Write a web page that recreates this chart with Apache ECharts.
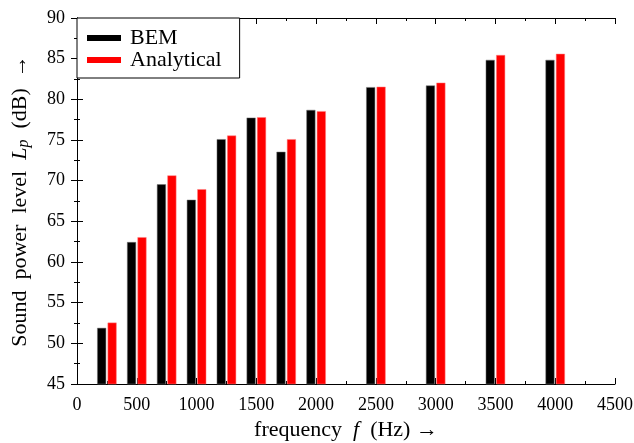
<!DOCTYPE html>
<html>
<head>
<meta charset="utf-8">
<script src="https://cdn.jsdelivr.net/npm/echarts@6/dist/echarts.min.js"></script>
<style>
  html, body { margin: 0; padding: 0; background: #fff; }
  #chart { width: 634px; height: 443px; }
</style>
</head>
<body>
<div id="chart"></div>
<script>
// frequencies (Hz) and sound power levels (dB)
const freqs = [250, 500, 750, 1000, 1250, 1500, 1750, 2000, 2500, 3000, 3500, 4000];
const bem = [51.9, 62.45, 69.55, 67.65, 75.1, 77.75, 73.55, 78.7, 81.5, 81.7, 84.85, 84.85];
const analytical = [52.55, 63.05, 70.65, 68.95, 75.55, 77.8, 75.1, 78.55, 81.55, 82.05, 85.45, 85.6];
const xTicks = [0, 500, 1000, 1500, 2000, 2500, 3000, 3500, 4000, 4500];

const serif = '"Liberation Serif", "DejaVu Serif", serif';
const pairs = (ys) => freqs.map((f, i) => [f, ys[i]]);

const chart = echarts.init(document.getElementById('chart'));

const tickCommon = {
  axisLine: { show: true, lineStyle: { color: '#000', width: 1 } },
  axisTick: { show: true, inside: true, length: 6, lineStyle: { color: '#000' } },
  minorTick: { show: true, splitNumber: 2, length: 3, lineStyle: { color: '#000' } },
  splitLine: { show: false }
};

chart.setOption({
  animation: false,
  backgroundColor: '#fff',
  grid: { left: 77, right: 19, top: 18, bottom: 59, containLabel: false, outerBoundsMode: 'none' },
  legend: {
    orient: 'vertical',
    left: 77, top: 18,
    padding: [9, 18, 7, 10],
    itemGap: 0,
    itemWidth: 34, itemHeight: 6,
    icon: 'rect',
    itemStyle: { borderWidth: 0 },
    borderColor: '#000', borderWidth: 1,
    backgroundColor: '#fff',
    textStyle: { fontFamily: serif, fontSize: 22, color: '#000', padding: [0, 0, 0, 4] },
    data: ['BEM', 'Analytical']
  },
  xAxis: [
    Object.assign({
      type: 'value', min: xTicks[0], max: xTicks[xTicks.length - 1], interval: 500,
      position: 'bottom',
      name: 'frequency  {i|f}  (Hz) →',
      nameLocation: 'middle', nameGap: 35,
      nameTextStyle: {
        fontFamily: serif, fontSize: 22, color: '#000',
        rich: { i: { fontFamily: serif, fontSize: 22, fontStyle: 'italic', color: '#000' } }
      },
      axisLabel: { margin: 12, fontFamily: serif, fontSize: 18, color: '#000', formatter: (v) => String(v) }
    }, tickCommon),
    Object.assign({
      type: 'value', min: xTicks[0], max: xTicks[xTicks.length - 1], interval: 500,
      position: 'top', axisLabel: { show: false }
    }, tickCommon)
  ],
  yAxis: [
    Object.assign({
      type: 'value', min: 45, max: 90, interval: 5,
      position: 'left',
      name: 'Sound  power  level  {i|L}{s|p}  (dB)  →',
      nameLocation: 'middle', nameGap: 45,
      nameTextStyle: {
        fontFamily: serif, fontSize: 22, color: '#000',
        rich: {
          i: { fontFamily: serif, fontSize: 22, fontStyle: 'italic', color: '#000' },
          s: { fontFamily: serif, fontSize: 16, fontStyle: 'italic', color: '#000', padding: [8, 0, 0, 0] }
        }
      },
      axisLabel: { margin: 12, fontFamily: serif, fontSize: 18, color: '#000' }
    }, tickCommon),
    Object.assign({
      type: 'value', min: 45, max: 90, interval: 5,
      position: 'right', axisLabel: { show: false }
    }, tickCommon)
  ],
  series: [
    {
      name: 'BEM', type: 'bar', xAxisIndex: 0, yAxisIndex: 0,
      data: pairs(bem),
      barWidth: 9, barGap: '16%',
      clip: true,
      itemStyle: { color: '#000', borderColor: '#777', borderWidth: 0.5 }
    },
    {
      name: 'Analytical', type: 'bar', xAxisIndex: 0, yAxisIndex: 0,
      data: pairs(analytical),
      barWidth: 9, barGap: '16%',
      clip: true,
      itemStyle: { color: '#ff0000', borderColor: '#ff8080', borderWidth: 0.5 }
    }
  ]
});
</script>
</body>
</html>
